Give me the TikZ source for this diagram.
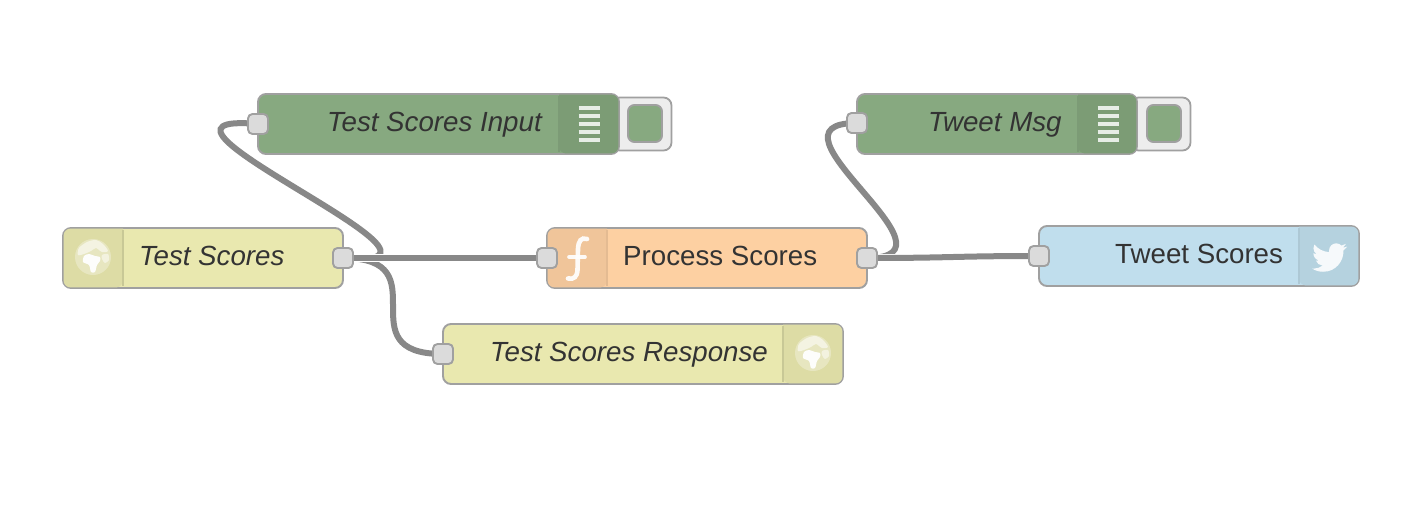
\documentclass[tikz,border=0pt]{standalone}
\usepackage{fontspec}
\setmainfont{Liberation Sans}
\definecolor{grn}{HTML}{87A980}
\definecolor{grnd}{HTML}{7C9C75}
\definecolor{yel}{HTML}{E9E8AF}
\definecolor{yeld}{HTML}{DDDCA5}
\definecolor{org}{HTML}{FDD0A2}
\definecolor{orgd}{HTML}{F0C59A}
\definecolor{blu}{HTML}{C0DEED}
\definecolor{blud}{HTML}{B5D2DF}
\definecolor{edgeg}{HTML}{A0A0A0}
\definecolor{wireg}{HTML}{888888}
\definecolor{txt}{HTML}{333333}
\tikzset{
  flowbox/.style={draw=edgeg,line width=1.9pt,rounded corners=8pt,inner sep=0pt,minimum height=60pt},
  portbox/.style={draw=edgeg,fill=black!14,line width=1.9pt,rounded corners=4.5pt,inner sep=0pt,minimum width=20pt,minimum height=20pt},
  tabbox/.style={draw=edgeg,fill=black!7,line width=1.8pt,rounded corners=8pt,inner sep=0pt,minimum height=53pt},
  squarebox/.style={draw=edgeg,fill=grn,line width=1.9pt,rounded corners=6.5pt,inner sep=0pt,minimum width=34pt,minimum height=37pt},
  flowlabel/.style={text=txt,anchor=base west,inner sep=0pt,font=\fontsize{27.7}{30}\selectfont},
  flowlabeli/.style={flowlabel,font=\fontsize{27.7}{30}\itshape\selectfont},
  wirelook/.style={draw=wireg,line width=6pt},
  wirehalo/.style={draw=white,line width=7.5pt},
  bar/.style={draw=white,draw opacity=.82,line width=3.2pt},
  divider/.style={line width=1.2pt},
  globe/.pic={
    \fill[white,opacity=.3] (0,0) circle (18pt);
    \fill[white,opacity=.55] plot[smooth cycle] coordinates {(-14,-9)(-6,-15)(3,-17)(10,-13)(15,-6)(9,-5)(3,-9)(-2,-6)(-9,-3)(-15,-2)};
    \fill[white,opacity=.95] plot[smooth cycle] coordinates {(-9,-1)(-4,-3)(2,-1)(7,0)(7,4)(4,8)(2,15)(-2,15)(-4,8)(-10,5)};
    \fill[white,opacity=.5] plot[smooth cycle] coordinates {(9,-2)(15,-3)(16,3)(12,6)(9,2)};
  }
}
\newcommand{\wire}[1]{\path[wirehalo] #1; \path[wirelook] #1;}
\begin{document}
\begin{tikzpicture}[x=1pt,y=-1pt]
\useasboundingbox (0,0) rectangle (1426,504);
\fill[white] (0,0) rectangle (1426,504);

% tabs behind debug nodes
\node[tabbox,minimum width=60pt] (tabA) at (641.5,124) {};
\node[tabbox,minimum width=60pt] (tabB) at (1160.5,124) {};

% node bodies
\node[flowbox,fill=grn,minimum width=361pt] (inputN) at (438.5,124) {};
\node[flowbox,fill=grn,minimum width=280pt] (msgN) at (997,124) {};
\node[flowbox,fill=yel,minimum width=280pt] (httpN) at (203,258) {};
\node[flowbox,fill=org,minimum width=320pt] (procN) at (707,258) {};
\node[flowbox,fill=blu,minimum width=320pt] (tweetN) at (1199,256) {};
\node[flowbox,fill=yel,minimum width=400pt] (respN) at (643,354) {};

% icon panes
\fill[grnd,rounded corners=7pt] (559,94.6) -- (618.4,94.6) -- (618.4,153.4) -- (559,153.4) [sharp corners] -- cycle;
\fill[grnd,rounded corners=7pt] (1078,94.6) -- (1136.4,94.6) -- (1136.4,153.4) -- (1078,153.4) [sharp corners] -- cycle;
\fill[yeld,rounded corners=7pt] (123,228.6) -- (63.6,228.6) -- (63.6,287.4) -- (123,287.4) [sharp corners] -- cycle;
\fill[orgd,rounded corners=7pt] (607,228.6) -- (547.6,228.6) -- (547.6,287.4) -- (607,287.4) [sharp corners] -- cycle;
\fill[blud,rounded corners=7pt] (1299,226.6) -- (1358.4,226.6) -- (1358.4,285.4) -- (1299,285.4) [sharp corners] -- cycle;
\fill[yeld,rounded corners=7pt] (783,324.6) -- (842.4,324.6) -- (842.4,383.4) -- (783,383.4) [sharp corners] -- cycle;
\draw[divider,draw=grn!92!black] (559,96) -- (559,152);
\draw[divider,draw=grn!92!black] (1078,96) -- (1078,152);
\draw[divider,draw=yel!86!black] (123,230) -- (123,286);
\draw[divider,draw=org!90!black] (607,230) -- (607,286);
\draw[divider,draw=blu!90!black] (1299,228) -- (1299,284);
\draw[divider,draw=yel!86!black] (783,326) -- (783,382);

% toggle squares
\node[squarebox] (sqA) at (645,123.5) {};
\node[squarebox] (sqB) at (1164,123.5) {};

% list icons
\foreach \yy in {108,116,124,132,140} {
  \draw[bar] (578.5,\yy) -- (599.5,\yy);
  \draw[bar] (1097.5,\yy) -- (1118.5,\yy);
}

% globes
\pic at (93,257) {globe};
\pic at (813,353) {globe};

% function icon
\draw[white,opacity=.92,line width=4.6pt,line cap=round] (587,239) .. controls (581,237) and (578.5,241) .. (578,249) -- (577.5,270) .. controls (577,277) and (574,279.5) .. (568,278.5);
\draw[white,opacity=.92,line width=3.6pt,line cap=round] (569,257) -- (585,257);

% bird icon
\begin{scope}[shift={(1312,240)},x=1.46pt,y=-1.46pt]
\fill[white,opacity=.88] (23.953,4.57) .. controls (22.6,5.15) .. (21.128,5.345)
  .. controls (22.4,4.6) .. (23.291,2.622)
  .. controls (22.34,3.177) and (21.286,3.581) .. (20.164,3.806)
  .. controls (19.2,2.9) and (18,2.28) .. (16.6,2.28)
  .. controls (13.9,2.28) and (11.68,4.5) .. (11.68,7.2)
  .. controls (11.68,7.6) and (11.7,7.95) .. (11.78,8.288)
  .. controls (7.69,8.095) and (4.067,6.13) .. (1.64,3.162)
  .. controls (1.2,3.9) .. (.974,5.637)
  .. controls (.974,7.347) and (1.844,8.85) .. (3.162,9.733)
  .. controls (2.3,9.7) .. (.934,9.117) -- (.934,9.177)
  .. controls (.934,11.5) and (2.6,13.5) .. (4.88,14.004)
  .. controls (4.2,14.2) .. (2.668,14.089)
  .. controls (3.3,16) and (5.1,17.45) .. (7.272,17.506)
  .. controls (5.6,18.8) and (3.5,19.611) .. (1.17,19.611)
  .. controls (.78,19.611) and (.391,19.588) .. (0,19.544)
  .. controls (2.2,20.95) and (4.8,21.753) .. (7.557,21.753)
  .. controls (16.61,21.753) and (21.555,14.257) .. (21.555,7.731)
  .. controls (21.555,7.521) and (21.555,7.311) .. (21.54,7.101)
  .. controls (22.5,6.4) .. (24,4.59) -- cycle;
\end{scope}

% labels
\node[flowlabeli] (lblA) at (327,131) {Test Scores Input};
\node[flowlabeli] (lblB) at (928,131) {Tweet Msg};
\node[flowlabeli] (lblC) at (139,265.5) {Test Scores};
\node[flowlabel]  (lblD) at (623,265.5) {Process Scores};
\node[flowlabel]  (lblE) at (1115,263.5) {Tweet Scores};
\node[flowlabeli] (lblF) at (490,361.5) {Test Scores Response};

% wire anchors
\coordinate (inA) at (258,124);
\coordinate (inB) at (857,123);
\coordinate (outH) at (343,258);
\coordinate (inP) at (547,258);
\coordinate (outP) at (867,258);
\coordinate (inT) at (1039,256);
\coordinate (inR) at (443,354);

% wires
\wire{(outH) .. controls +(158,14) and +(-158,-14) .. (inA)}
\wire{(outH) .. controls +(100,0) and +(-100,0) .. (inR)}
\wire{(outH) .. controls +(100,0) and +(-100,0) .. (inP)}
\wire{(outP) .. controls +(105,0) and +(-105,0) .. (inB)}
\wire{(outP) .. controls +(85,0) and +(-85,0) .. (inT)}

% ports
\node[portbox] (pA) at (inA) {};
\node[portbox] (pB) at (inB) {};
\node[portbox] (pC) at (outH) {};
\node[portbox] (pD) at (inP) {};
\node[portbox] (pE) at (outP) {};
\node[portbox] (pF) at (inT) {};
\node[portbox] (pG) at (inR) {};
\end{tikzpicture}
\end{document}
